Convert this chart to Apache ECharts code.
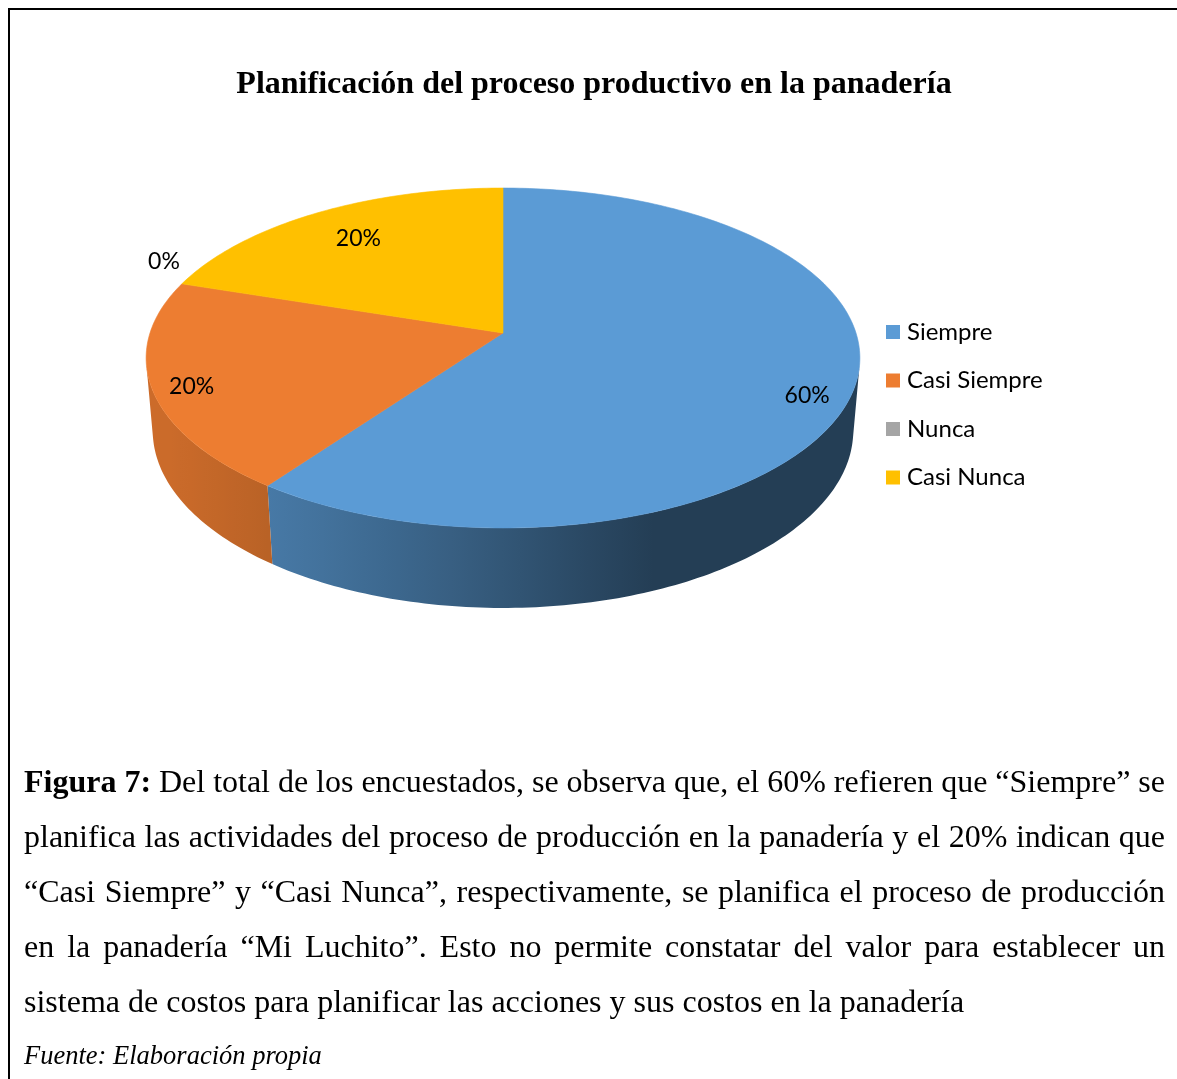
<!DOCTYPE html>
<html>
<head>
<meta charset="utf-8">
<script src="https://cdn.jsdelivr.net/npm/echarts@6/dist/echarts.min.js"></script>
<style>
  html, body { margin: 0; padding: 0; background: #fff; }
  #chart { width: 1177px; height: 1079px; }
</style>
</head>
<body>
<div id="chart"></div>
<script>
// data
const categories = ['Siempre', 'Casi Siempre', 'Nunca', 'Casi Nunca'];
const percents = [60, 20, 0, 20];
const colors = ['#5B9BD5', '#ED7D31', '#A5A5A5', '#FFC000'];
const chartTitle = 'Planificación del proceso productivo en la panadería';
const captionLines = [
    'Figura 7: Del total de los encuestados, se observa que, el 60% refieren que “Siempre” se',
    'planifica las actividades del proceso de producción en la panadería y el 20% indican que',
    '“Casi Siempre” y “Casi Nunca”, respectivamente, se planifica el proceso de producción',
    'en la panadería “Mi Luchito”. Esto no permite constatar del valor para establecer un',
    'sistema de costos para planificar las acciones y sus costos en la panadería'
];
const captionBoldWords = 2; // "Figura 7:"
const sourceNote = 'Fuente: Elaboración propia';

// pie look: a flat cylinder seen in perspective, slices clockwise from 12 o'clock
const pie = {cx: 503, cy: 333, focal: 2118, dist: 6, tilt: 28.1, depth: 0.2355};
const labelRadius = [0.87, 0.89, 1.0, 0.76];
const labelShift = [[0, 16], [0, 6], [-2, -11], [0, -1]];
const labelFont = 'Lato';
const labelSize = 23;
const serif = '"Liberation Serif", "Times New Roman", serif';

const sinT = Math.sin(pie.tilt * Math.PI / 180);
const cosT = Math.cos(pie.tilt * Math.PI / 180);
const total = percents.reduce((a, b) => a + b, 0);
const starts = [];
percents.reduce((acc, v, i) => { starts[i] = acc / total * 360; return acc + v; }, 0);
// outer wall is seen between these angles
const wallFrom = Math.acos(-1 / (pie.dist * cosT)) * 180 / Math.PI;
const wallTo = 360 - wallFrom;

function project(angle, r, y) {
    const a = angle * Math.PI / 180;
    const X = r * Math.sin(a), Z = r * Math.cos(a);
    const w = pie.dist + Z * cosT - y * sinT;
    return [pie.cx + pie.focal * X / w, pie.cy - pie.focal * (Z * sinT + y * cosT) / w];
}

function shade(hex, angle) {
    const k = 0.40 + 0.46 * Math.max(0, Math.cos((angle - 250) * Math.PI / 180));
    const n = parseInt(hex.slice(1), 16);
    const c = [(n >> 16) & 255, (n >> 8) & 255, n & 255].map(v => Math.round(v * k));
    return 'rgb(' + c.join(',') + ')';
}

function arc(a0, a1, r, y) {
    const pts = [];
    const n = Math.max(1, Math.ceil(a1 - a0));
    for (let k = 0; k <= n; k++) pts.push(project(a0 + (a1 - a0) * k / n, r, y));
    return pts;
}

function renderSlice(i) {
    return function (params, api) {
        const value = api.value(0);
        const a0 = starts[i];
        const a1 = a0 + value / total * 360;
        const mid = (a0 + a1) / 2;
        const zero = !(a1 > a0);
        const children = [];
        if (!zero) {
            const w0 = Math.max(a0, wallFrom), w1 = Math.min(a1, wallTo);
            if (w1 > w0) {
                const top = arc(w0, w1, 1, 0);
                const bottom = arc(w0, w1, 1, -pie.depth).reverse();
                const xs = top.map(p => p[0]);
                const xL = Math.min.apply(null, xs), xR = Math.max.apply(null, xs);
                const stops = [];
                for (let k = 0; k <= 12; k++) {
                    const ang = w0 + (w1 - w0) * k / 12;
                    stops.push({offset: (project(ang, 1, 0)[0] - xL) / (xR - xL), color: shade(colors[i], ang)});
                }
                stops.sort((a, b) => a.offset - b.offset);
                children.push({
                    type: 'polygon',
                    z2: 1,
                    shape: {points: top.concat(bottom)},
                    style: {fill: new echarts.graphic.LinearGradient(xL, 0, xR, 0, stops, true)}
                });
            }
            children.push({
                type: 'polygon',
                z2: 5,
                shape: {points: [[pie.cx, pie.cy]].concat(arc(a0, a1, 1, 0))},
                style: {fill: colors[i], stroke: colors[i], lineWidth: 0.6}
            });
        }
        const lp = project(mid, labelRadius[i], 0);
        children.push({
            type: 'text',
            z2: 10,
            x: lp[0] + labelShift[i][0],
            y: lp[1] + labelShift[i][1],
            style: {
                text: value + '%',
                fill: '#000',
                fontFamily: labelFont,
                fontSize: labelSize,
                align: zero ? 'right' : 'center',
                verticalAlign: zero ? 'bottom' : 'middle'
            }
        });
        return {type: 'group', children: children};
    };
}

// caption: justified lines, one text element per word
const measure = document.createElement('canvas').getContext('2d');
function fontString(size, weight) {
    return 'normal ' + (weight || 'normal') + ' ' + size + 'px ' + serif;
}
const captionLeft = 24, captionRight = 1165, captionTop = 784, captionStep = 55, captionSize = 32;
const captionGraphics = [];
captionLines.forEach((line, li) => {
    const words = line.split(' ');
    const fonts = words.map((w, wi) => (li === 0 && wi < captionBoldWords) ? 'bold' : 'normal');
    const widths = words.map((w, wi) => {
        measure.font = fontString(captionSize, fonts[wi]);
        return measure.measureText(w).width;
    });
    measure.font = fontString(captionSize, 'normal');
    const space = measure.measureText(' ').width;
    const used = widths.reduce((a, b) => a + b, 0);
    const last = li === captionLines.length - 1;
    const gap = last ? space : (captionRight - captionLeft - used) / (words.length - 1);
    let x = captionLeft;
    words.forEach((w, wi) => {
        captionGraphics.push({
            type: 'text',
            x: x,
            y: captionTop + li * captionStep,
            style: {
                text: w, fill: '#000', fontFamily: serif, fontSize: captionSize,
                fontWeight: fonts[wi], verticalAlign: 'middle'
            }
        });
        x += widths[wi] + gap;
    });
});

const chart = echarts.init(document.getElementById('chart'), null, {renderer: 'canvas'});
chart.setOption({
    animation: false,
    backgroundColor: '#fff',
    legend: {
        orient: 'vertical',
        left: 886,
        top: 320,
        padding: 0,
        icon: 'rect',
        itemWidth: 14,
        itemHeight: 14,
        itemGap: 24.5,
        selectedMode: false,
        data: categories,
        textStyle: {fontFamily: labelFont, fontSize: 24, color: '#000', lineHeight: 24, padding: [0, 0, 0, 2]}
    },
    series: categories.map((name, i) => ({
        type: 'custom',
        name: name,
        coordinateSystem: 'none',
        itemStyle: {color: colors[i]},
        data: [[percents[i]]],
        renderItem: renderSlice(i)
    })),
    graphic: [
        {type: 'line', shape: {x1: 8, y1: 9, x2: 1177, y2: 9}, style: {stroke: '#000', lineWidth: 2}},
        {type: 'line', shape: {x1: 9, y1: 8, x2: 9, y2: 1079}, style: {stroke: '#000', lineWidth: 2}},
        {
            type: 'text', x: 594, y: 85,
            style: {
                text: chartTitle, fill: '#000', fontFamily: serif, fontSize: 32,
                fontWeight: 'bold', align: 'center', verticalAlign: 'middle'
            }
        },
        {
            type: 'text', x: 24, y: 1057,
            style: {
                text: sourceNote, fill: '#000', fontFamily: serif, fontSize: 26.5,
                fontStyle: 'italic', verticalAlign: 'middle'
            }
        }
    ].concat(captionGraphics)
});
</script>
</body>
</html>
